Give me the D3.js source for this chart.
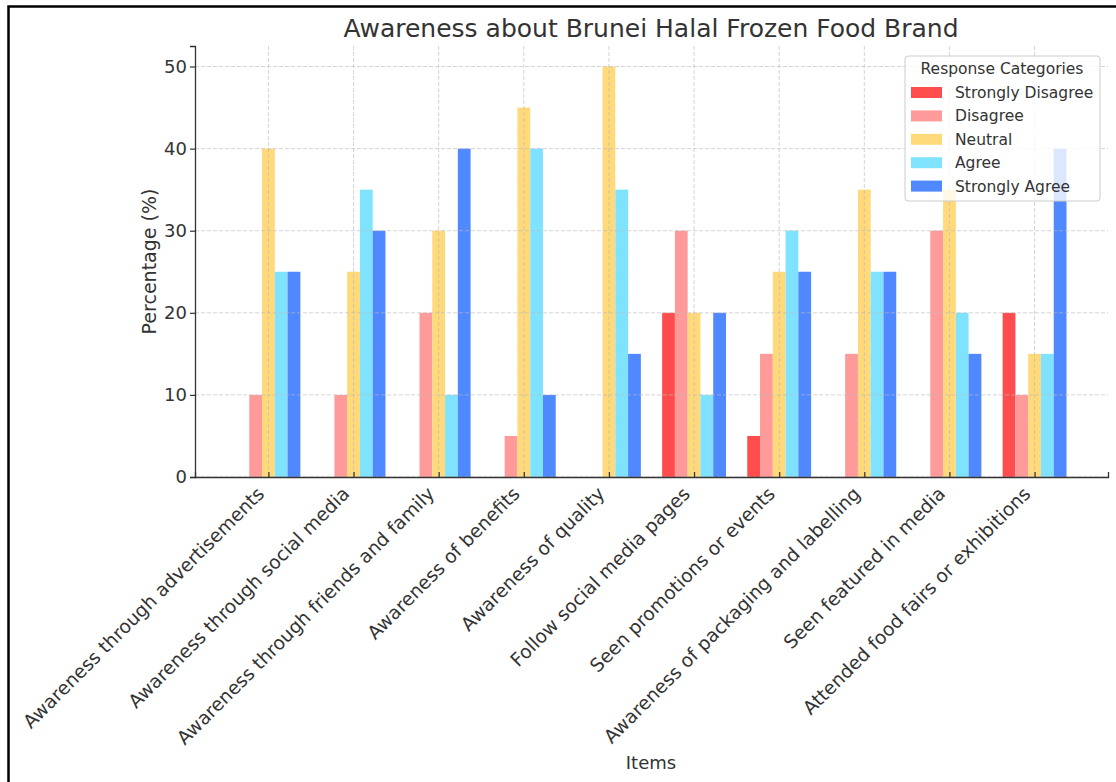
<!DOCTYPE html>
<html lang="en">
<head>
<meta charset="utf-8">
<title>Awareness about Brunei Halal Frozen Food Brand</title>
<script src="https://d3js.org/d3.v7.min.js"></script>
<style>
  body { margin: 0; background: white; }
  svg text { font-family: "DejaVu Sans", sans-serif; fill: #333; }
</style>
</head>
<body>
<div id="chart"></div>
<script>
// ---- data ----
var items = ["Awareness through advertisements", "Awareness through social media",
  "Awareness through friends and family", "Awareness of benefits", "Awareness of quality",
  "Follow social media pages", "Seen promotions or events",
  "Awareness of packaging and labelling", "Seen featured in media",
  "Attended food fairs or exhibitions"];
var seriesNames = ["Strongly Disagree", "Disagree", "Neutral", "Agree", "Strongly Agree"];
var stronglyDisagree = [0, 0, 0, 0, 0, 20, 5, 0, 0, 20];
var disagree = [10, 10, 20, 5, 0, 30, 15, 15, 30, 10];
var neutral = [40, 25, 30, 45, 50, 20, 25, 35, 35, 15];
var agree = [25, 35, 10, 40, 35, 10, 30, 25, 20, 15];
var stronglyAgree = [25, 30, 40, 10, 15, 20, 25, 25, 15, 40];
var yTicks = [0, 10, 20, 30, 40, 50];

var seriesValues = [stronglyDisagree, disagree, neutral, agree, stronglyAgree];
var colors = ["#ff4d4d", "#ff9a9a", "#ffd97a", "#7fe3ff", "#4f88ff"];

var width = 1116, height = 782;
// plot area edges (note: "top" is taken by window.top)
var plotLeft = 195, plotRight = 1108, plotTop = 46, plotBottom = 477;
var barW = 0.15;

var svg = d3.select("#chart").append("svg")
  .attr("width", width)
  .attr("height", height);

// outer frame (only top and left edges show)
svg.append("rect")
  .attr("x", 8.5).attr("y", 6.5)
  .attr("width", width + 20).attr("height", height + 20)
  .attr("fill", "white")
  .attr("stroke", "black")
  .attr("stroke-width", 2.5);

// scales, with matplotlib style margins
var x = d3.scaleLinear().domain([-0.8625, items.length - 1 + 0.8625]).range([plotLeft, plotRight]);
var y = d3.scaleLinear().domain([0, 52.5]).range([plotBottom, plotTop]);

// bars
seriesValues.forEach(function(vals, s) {
  svg.append("g").selectAll("rect")
    .data(vals)
    .enter()
    .append("rect")
      .attr("x", function(d, i) { return x(i + (s - 2) * barW - barW / 2); })
      .attr("width", x(barW) - x(0))
      .attr("y", function(d) { return y(d); })
      .attr("height", function(d) { return y(0) - y(d); })
      .attr("fill", colors[s]);
});

// grid on top of bars
var grid = svg.append("g")
  .attr("stroke", "#bbb")
  .attr("stroke-opacity", 0.7)
  .attr("stroke-dasharray", "4,2")
  .attr("stroke-width", 0.9);
grid.selectAll("line.h")
  .data(yTicks)
  .enter().append("line")
    .attr("x1", plotLeft).attr("x2", plotRight)
    .attr("y1", function(d) { return y(d); })
    .attr("y2", function(d) { return y(d); });
grid.selectAll("line.v")
  .data(items)
  .enter().append("line")
    .attr("x1", function(d, i) { return x(i); })
    .attr("x2", function(d, i) { return x(i); })
    .attr("y1", plotTop).attr("y2", plotBottom);

// y axis
var yAxis = svg.append("g")
  .attr("transform", "translate(" + plotLeft + ",0)")
  .call(d3.axisLeft(y).tickValues(yTicks).tickSize(5).tickPadding(3));
yAxis.select(".domain").attr("stroke", "#333").attr("stroke-width", 1.3);
yAxis.selectAll(".tick line").attr("stroke", "#333").attr("stroke-width", 1.2);
yAxis.selectAll(".tick text").style("font-size", "18px").attr("fill", "#333");

// x axis, ticks point inward
var xAxis = svg.append("g")
  .attr("transform", "translate(0," + plotBottom + ")")
  .call(d3.axisBottom(x).tickValues(d3.range(items.length)).tickSize(-5).tickFormat(""));
xAxis.select(".domain").attr("stroke", "#333").attr("stroke-width", 1.3);
xAxis.selectAll(".tick line").attr("stroke", "#333").attr("stroke-width", 1.2);

svg.append("g").selectAll("text")
  .data(items)
  .enter().append("text")
    .attr("transform", function(d, i) {
      return "translate(" + (x(i) - 3) + "," + (plotBottom + 18) + ") rotate(-45)";
    })
    .attr("text-anchor", "end")
    .style("font-size", "18.7px")
    .text(function(d) { return d; });

// titles
svg.append("text")
  .attr("x", 651).attr("y", 37)
  .attr("text-anchor", "middle")
  .style("font-size", "25px")
  .text("Awareness about Brunei Halal Frozen Food Brand");

svg.append("text")
  .attr("transform", "translate(156," + ((plotTop + plotBottom) / 2) + ") rotate(-90)")
  .attr("text-anchor", "middle")
  .style("font-size", "19px")
  .text("Percentage (%)");

svg.append("text")
  .attr("x", 651).attr("y", 769)
  .attr("text-anchor", "middle")
  .style("font-size", "18px")
  .text("Items");

// legend
var lg = svg.append("g").attr("transform", "translate(905,56)");
lg.append("rect")
  .attr("width", 195).attr("height", 145)
  .attr("rx", 3)
  .attr("fill", "white").attr("fill-opacity", 0.8)
  .attr("stroke", "#ccc");
lg.append("text")
  .attr("x", 97).attr("y", 18)
  .attr("text-anchor", "middle")
  .style("font-size", "15.5px")
  .text("Response Categories");
var entry = lg.selectAll("g.entry")
  .data(seriesNames)
  .enter().append("g")
    .attr("class", "entry")
    .attr("transform", function(d, i) { return "translate(6," + (36.5 + i * 23.4) + ")"; });
entry.append("rect")
  .attr("y", -5.5).attr("width", 31).attr("height", 11)
  .attr("fill", function(d, i) { return colors[i]; });
entry.append("text")
  .attr("x", 44).attr("y", 5.5)
  .style("font-size", "15.5px")
  .text(function(d) { return d; });
</script>
</body>
</html>
